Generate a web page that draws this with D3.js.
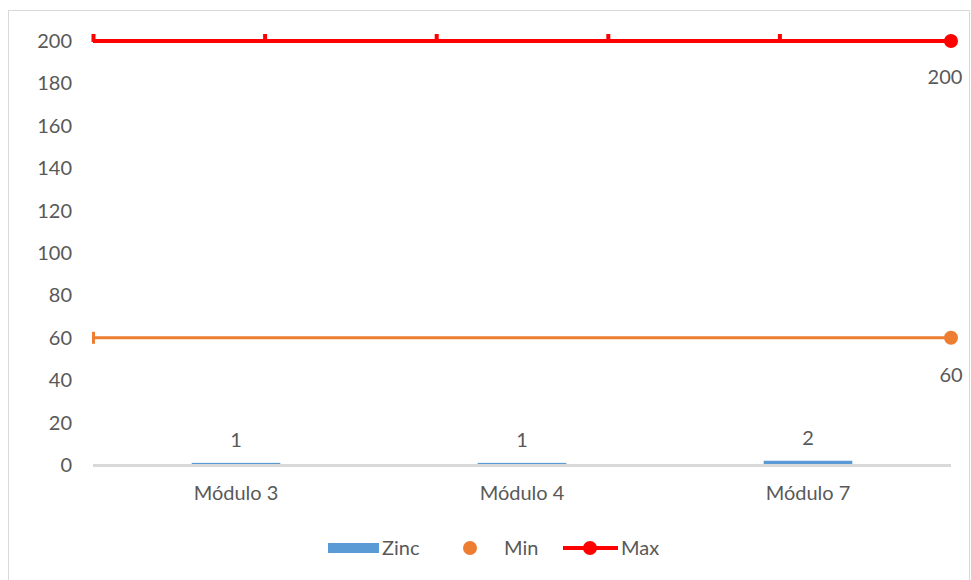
<!DOCTYPE html>
<html><head><meta charset="utf-8">
<script src="https://cdn.jsdelivr.net/npm/d3@7/dist/d3.min.js"></script>
<style>
html,body{margin:0;padding:0;background:#fff;}
text{font-family:Lato,"Open Sans",sans-serif;fill:#595959;}
</style></head>
<body>
<svg id="c" width="971" height="580"></svg>
<script>
const categories = ["Módulo 3","Módulo 4","Módulo 7"];
const zincValues = [1,1,2];
const minValues = [60,60];
const maxValues = [200,200,200,200,200,200];
const yTicks = [0,20,40,60,80,100,120,140,160,180,200];
const legendLabels = ["Zinc","Min","Max"];

const svg = d3.select("#c");
const W=971,H=580,FS=20;
const pLeft=93,pRight=951,pTop=41,pBottom=465;

svg.append("rect").attr("x",8.5).attr("y",10.5).attr("width",W-10).attr("height",H)
  .attr("fill","#fff").attr("stroke","#d9d9d9").attr("stroke-width",1);

const y = d3.scaleLinear().domain([0,200]).range([pBottom,pTop]);
const x = d3.scaleBand().domain(categories).range([pLeft,pRight]).paddingInner(0.69).paddingOuter(0.345);
const xMax = d3.scalePoint().domain(d3.range(maxValues.length)).range([pLeft,pRight]);
const xMin = d3.scalePoint().domain(d3.range(minValues.length)).range([pLeft,pRight]);

// y axis labels
const yAxis = d3.axisLeft(y).tickValues(yTicks).tickSize(0).tickPadding(21);
const ya = svg.append("g").attr("transform",`translate(${pLeft},0)`).call(yAxis);
ya.select(".domain").remove();
ya.selectAll("text").attr("font-size",FS).style("font-family","Lato").attr("fill","#595959");

// bars
svg.selectAll(".bar").data(zincValues).join("rect")
  .attr("x",(d,i)=>x(categories[i])).attr("width",x.bandwidth())
  .attr("y",d=>y(d)).attr("height",d=>pBottom-y(d)).attr("fill","#5b9bd5");

// x axis
const xAxis = d3.axisBottom(x).tickSize(0).tickPadding(21);
const xa = svg.append("g").attr("transform",`translate(0,${pBottom})`).call(xAxis);
xa.select(".domain").attr("stroke","#d9d9d9").attr("stroke-width",3).attr("d",`M${pLeft},0.5H${pRight}`);
xa.selectAll("text").attr("font-size",FS).style("font-family","Lato").attr("fill","#595959");

// bar labels
svg.selectAll(".bl").data(zincValues).join("text")
  .attr("x",(d,i)=>x(categories[i])+x.bandwidth()/2).attr("y",d=>y(d)-16)
  .attr("text-anchor","middle").attr("font-size",FS).text(d=>d);

// Min line
const line = (sx)=>d3.line().x((d,i)=>sx(i)).y(d=>y(d));
svg.append("path").datum(minValues).attr("d",line(xMin)).attr("fill","none")
  .attr("stroke","#ed7d31").attr("stroke-width",3);
svg.append("rect").attr("x",xMin(0)-1).attr("y",y(minValues[0])-6).attr("width",3).attr("height",12).attr("fill","#ed7d31");
const lastMin = minValues.length-1;
svg.append("circle").attr("cx",xMin(lastMin)).attr("cy",y(minValues[lastMin])).attr("r",7).attr("fill","#ed7d31");
svg.append("text").attr("x",xMin(lastMin)).attr("y",y(minValues[lastMin])+44).attr("text-anchor","middle")
  .attr("font-size",FS).text(minValues[lastMin]);

// Max line
svg.append("path").datum(maxValues).attr("d",line(xMax)).attr("fill","none")
  .attr("stroke","#ff0000").attr("stroke-width",4);
svg.selectAll(".mt").data(maxValues.slice(0,-1)).join("rect")
  .attr("x",(d,i)=>xMax(i)-1.5).attr("y",d=>y(d)-7).attr("width",4).attr("height",8).attr("fill","#ff0000");
const lastMax = maxValues.length-1;
svg.append("circle").attr("cx",xMax(lastMax)).attr("cy",y(maxValues[lastMax])).attr("r",7).attr("fill","#ff0000");
svg.append("text").attr("x",xMax(lastMax)-6).attr("y",y(maxValues[lastMax])+43).attr("text-anchor","middle")
  .attr("font-size",FS).text(maxValues[lastMax]);

// legend
const lg = svg.append("g");
lg.append("rect").attr("x",328).attr("y",543).attr("width",51).attr("height",10).attr("fill","#5b9bd5");
lg.append("text").attr("x",382).attr("y",555).attr("font-size",FS).text(legendLabels[0]);
lg.append("circle").attr("cx",470).attr("cy",548).attr("r",7).attr("fill","#ed7d31");
lg.append("text").attr("x",504).attr("y",555).attr("font-size",FS).text(legendLabels[1]);
lg.append("line").attr("x1",563).attr("x2",618).attr("y1",548).attr("y2",548).attr("stroke","#ff0000").attr("stroke-width",4);
lg.append("circle").attr("cx",590).attr("cy",548).attr("r",7).attr("fill","#ff0000");
lg.append("text").attr("x",621).attr("y",555).attr("font-size",FS).text(legendLabels[2]);
</script>
</body></html>
